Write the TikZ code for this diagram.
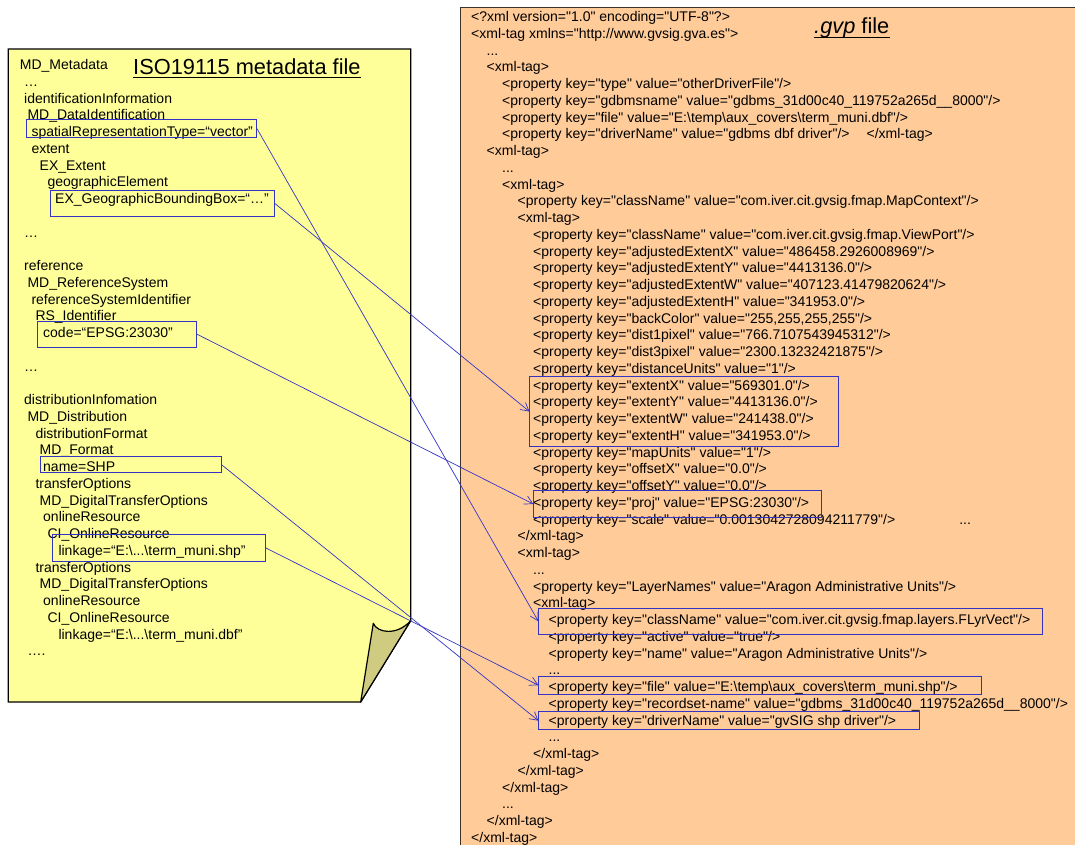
\documentclass[tikz,border=0pt]{standalone}
\usepackage{fontspec}
\setmainfont{Liberation Sans}
\newfontfamily\xmlfont{Liberation Sans}
\usetikzlibrary{arrows.meta}
\definecolor{pageyellow}{RGB}{255,255,153}
\definecolor{foldolive}{RGB}{207,203,128}
\definecolor{gvporange}{RGB}{255,204,153}
\definecolor{gvpedge}{RGB}{60,50,40}
\definecolor{linkblue}{RGB}{52,52,196}

\begin{document}
\begin{tikzpicture}[x=1pt,y=-1pt,
    hibox/.style={draw=linkblue,line width=1pt,inner sep=0pt,anchor=north west},
    listing/.style={inner sep=0pt,anchor=north west,font=\fontsize{14}{16.75}\selectfont},
    heading/.style={inner sep=0pt,anchor=base west,font=\fontsize{21.8}{26}\selectfont},
    maplink/.style={->,draw=linkblue,line width=0.7pt},
    >={Straight Barb[length=8pt,width=9pt]}]
			\useasboundingbox (0,0) rectangle (1075,844);
			\clip (0,0) rectangle (1075,844);
			
			% the two files
			\draw[fill=pageyellow,line width=1.2pt] (8.3,49) -- (410.7,49) -- (410.7,620.7) -- (360.7,702) -- (8.3,702) -- cycle;
			\draw[fill=foldolive,line width=1.2pt,line join=round] (360.7,702) -- (373.3,623.3) .. controls (377,633) and (397,636) .. (410.7,620.7) -- cycle;
			\draw[fill=gvporange,draw=gvpedge,line width=1.2pt] (460.5,7.5) rectangle (1090,860);
			
			\node[heading] (IsoTitle) at (133,74.3) {ISO19115 metadata file};
			\node[heading] (GvpTitle) at (814,33.3) {\textit{.gvp} file};
			\draw[line width=1.3pt] ([yshift=-2.6pt]IsoTitle.south west) -- ([yshift=-2.6pt]IsoTitle.south east);
			\draw[line width=1.3pt] ([yshift=0.4pt]GvpTitle.south west) -- ([yshift=0.4pt]GvpTitle.south east);
			
			\node[listing] (IsoText) at (19.7,57.6) {\begin{tabular}{@{}l@{}}
MD\_Metadata\\
\hspace*{4.3pt}…\\
\hspace*{4.3pt}identificationInformation\\
\hspace*{7.6pt}MD\_DataIdentification\\
\hspace*{11.6pt}spatialRepresentationType=“vector”\\
\hspace*{11.6pt}extent\\
\hspace*{19.8pt}EX\_Extent\\
\hspace*{27.6pt}geographicElement\\
\hspace*{35.3pt}EX\_GeographicBoundingBox=“…”\\
\\
\hspace*{4.3pt}…\\
\\
\hspace*{4.3pt}reference\\
\hspace*{7.6pt}MD\_ReferenceSystem\\
\hspace*{11.6pt}referenceSystemIdentifier\\
\hspace*{15.6pt}RS\_Identifier\\
\hspace*{23.3pt}code=“EPSG:23030”\\
\\
\hspace*{4.3pt}…\\
\\
\hspace*{4.3pt}distributionInfomation\\
\hspace*{7.6pt}MD\_Distribution\\
\hspace*{15.6pt}distributionFormat\\
\hspace*{19.8pt}MD\_Format\\
\hspace*{23.3pt}name=SHP\\
\hspace*{15.6pt}transferOptions\\
\hspace*{19.8pt}MD\_DigitalTransferOptions\\
\hspace*{23.3pt}onlineResource\\
\hspace*{27.6pt}CI\_OnlineResource\\
\hspace*{38.6pt}linkage=“E:\textbackslash...\textbackslash term\_muni.shp”\\
\hspace*{15.6pt}transferOptions\\
\hspace*{19.8pt}MD\_DigitalTransferOptions\\
\hspace*{23.3pt}onlineResource\\
\hspace*{27.6pt}CI\_OnlineResource\\
\hspace*{38.6pt}linkage=“E:\textbackslash...\textbackslash term\_muni.dbf”\\
\hspace*{7.6pt}….
\end{tabular}};
			
			\node[listing,font=\xmlfont\fontsize{14}{16.75}\selectfont] (GvpText) at (471,9.6) {\begin{tabular}{@{}l@{}}
<?xml version="1.0" encoding="UTF-8"?>\\
<xml-tag xmlns="http://www.gvsig.gva.es">\\
\hspace*{15.5pt}...\\
\hspace*{15.5pt}<xml-tag>\\
\hspace*{31pt}<property key="type" value="otherDriverFile"/>\\
\hspace*{31pt}<property key="gdbmsname" value="gdbms\_31d00c40\_119752a265d\_\_8000"/>\\
\hspace*{31pt}<property key="file" value="E:\textbackslash temp\textbackslash aux\_covers\textbackslash term\_muni.dbf"/>\\
\hspace*{31pt}<property key="driverName" value="gdbms dbf driver"/>\hspace*{17pt}</xml-tag>\\
\hspace*{15.5pt}<xml-tag>\\
\hspace*{31pt}...\\
\hspace*{31pt}<xml-tag>\\
\hspace*{46.5pt}<property key="className" value="com.iver.cit.gvsig.fmap.MapContext"/>\\
\hspace*{46.5pt}<xml-tag>\\
\hspace*{62pt}<property key="className" value="com.iver.cit.gvsig.fmap.ViewPort"/>\\
\hspace*{62pt}<property key="adjustedExtentX" value="486458.2926008969"/>\\
\hspace*{62pt}<property key="adjustedExtentY" value="4413136.0"/>\\
\hspace*{62pt}<property key="adjustedExtentW" value="407123.41479820624"/>\\
\hspace*{62pt}<property key="adjustedExtentH" value="341953.0"/>\\
\hspace*{62pt}<property key="backColor" value="255,255,255,255"/>\\
\hspace*{62pt}<property key="dist1pixel" value="766.7107543945312"/>\\
\hspace*{62pt}<property key="dist3pixel" value="2300.13232421875"/>\\
\hspace*{62pt}<property key="distanceUnits" value="1"/>\\
\hspace*{62pt}<property key="extentX" value="569301.0"/>\\
\hspace*{62pt}<property key="extentY" value="4413136.0"/>\\
\hspace*{62pt}<property key="extentW" value="241438.0"/>\\
\hspace*{62pt}<property key="extentH" value="341953.0"/>\\
\hspace*{62pt}<property key="mapUnits" value="1"/>\\
\hspace*{62pt}<property key="offsetX" value="0.0"/>\\
\hspace*{62pt}<property key="offsetY" value="0.0"/>\\
\hspace*{62pt}<property key="proj" value="EPSG:23030"/>\\
\hspace*{62pt}<property key="scale" value="0.0013042728094211779"/>\hspace*{64pt}...\\
\hspace*{46.5pt}</xml-tag>\\
\hspace*{46.5pt}<xml-tag>\\
\hspace*{62pt}...\\
\hspace*{62pt}<property key="LayerNames" value="Aragon Administrative Units"/>\\
\hspace*{62pt}<xml-tag>\\
\hspace*{77.5pt}<property key="className" value="com.iver.cit.gvsig.fmap.layers.FLyrVect"/>\\
\hspace*{77.5pt}<property key="active" value="true"/>\\
\hspace*{77.5pt}<property key="name" value="Aragon Administrative Units"/>\\
\hspace*{77.5pt}...\\
\hspace*{77.5pt}<property key="file" value="E:\textbackslash temp\textbackslash aux\_covers\textbackslash term\_muni.shp"/>\\
\hspace*{77.5pt}<property key="recordset-name" value="gdbms\_31d00c40\_119752a265d\_\_8000"/>\\
\hspace*{77.5pt}<property key="driverName" value="gvSIG shp driver"/>\\
\hspace*{77.5pt}...\\
\hspace*{62pt}</xml-tag>\\
\hspace*{46.5pt}</xml-tag>\\
\hspace*{31pt}</xml-tag>\\
\hspace*{31pt}...\\
\hspace*{15.5pt}</xml-tag>\\
</xml-tag>
\end{tabular}};
			
			% marked entries
			\node[hibox,minimum width=230pt,minimum height=17.7pt] (SpatialType) at (26,119.3) {};
			\node[hibox,minimum width=223.4pt,minimum height=26.3pt] (GeoBBox) at (50.3,189.7) {};
			\node[hibox,minimum width=159.3pt,minimum height=26pt] (EpsgCode) at (36.7,320.7) {};
			\node[hibox,minimum width=180.4pt,minimum height=16pt] (FormatName) at (40.3,456.3) {};
			\node[hibox,minimum width=212.7pt,minimum height=26.4pt] (ShpLinkage) at (52.3,534.3) {};
			
			\node[hibox,minimum width=309pt,minimum height=70pt] (ExtentProps) at (529.4,376) {};
			\node[hibox,minimum width=288pt,minimum height=26.4pt] (ProjProp) at (533.3,490.3) {};
			\node[hibox,minimum width=504pt,minimum height=26.3pt] (LayerClass) at (538.4,607.7) {};
			\node[hibox,minimum width=442.4pt,minimum height=18pt] (FileProp) at (538.4,675.7) {};
			\node[hibox,minimum width=380.4pt,minimum height=18.3pt] (DriverProp) at (538.4,711) {};
			
			\draw[maplink] (SpatialType.east) to (LayerClass.west);
			\draw[maplink] (GeoBBox.east) to (ExtentProps.west);
			\draw[maplink] (EpsgCode.east) to (ProjProp.west);
			\draw[maplink] (FormatName.east) to (DriverProp.west);
			\draw[maplink] (ShpLinkage.east) to (FileProp.west);
\end{tikzpicture}
\end{document}
